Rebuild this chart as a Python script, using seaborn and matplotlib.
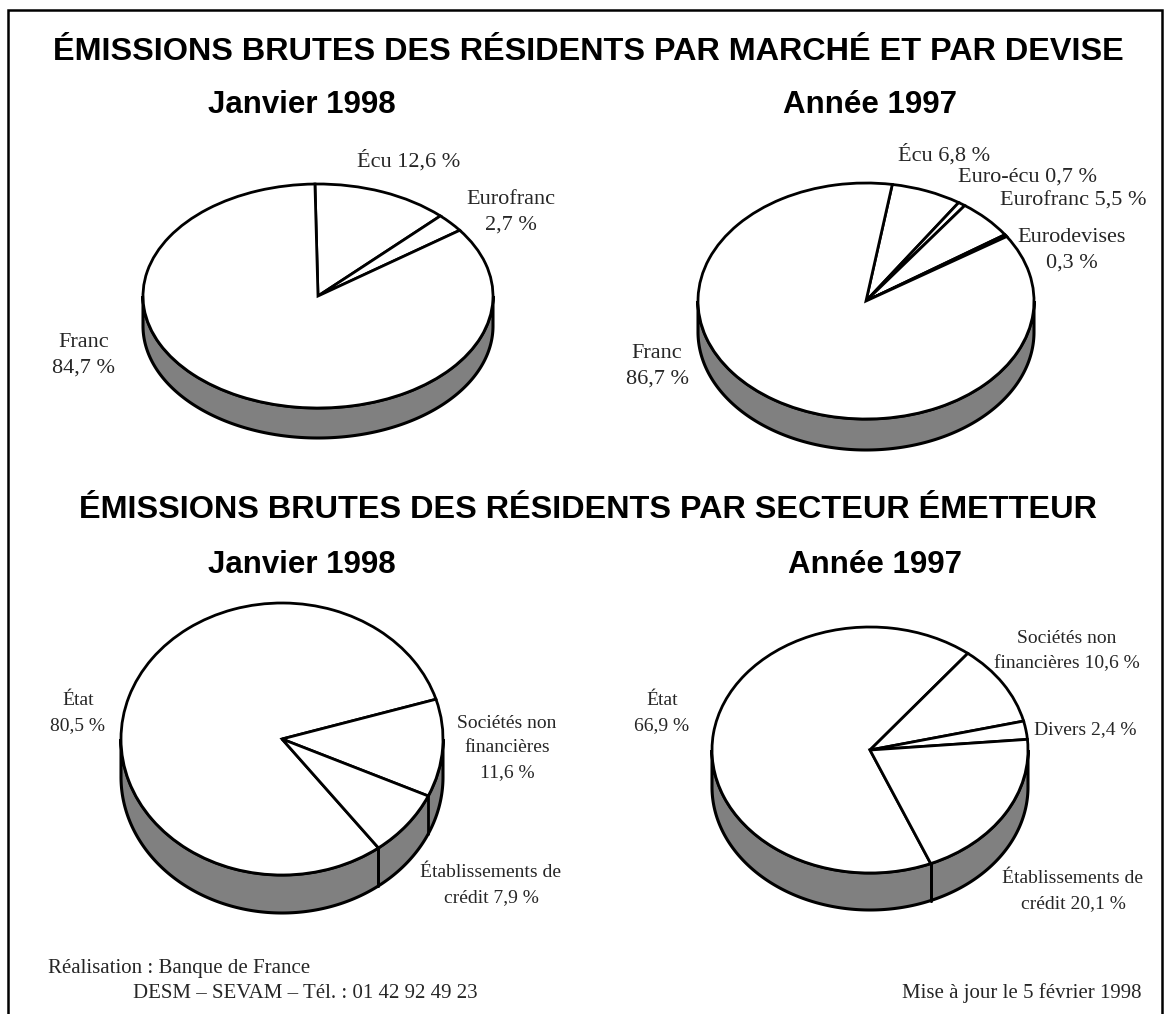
import numpy as np
import matplotlib
matplotlib.use("Agg")
import matplotlib.pyplot as plt
from matplotlib.patches import Polygon, Rectangle
import seaborn as sns

# --- data ---------------------------------------------------------------
dev_jan_values = [12.6, 2.7, 84.7]
dev_jan_labels = ["Écu 12,6 %", "Eurofranc\n2,7 %", "Franc\n84,7 %"]

dev_97_values = [6.8, 0.7, 5.5, 0.3, 86.7]
dev_97_labels = ["Écu 6,8 %", "Euro-écu 0,7 %", "Eurofranc 5,5 %",
                 "Eurodevises\n0,3 %", "Franc\n86,7 %"]

sec_jan_values = [80.5, 11.6, 7.9]
sec_jan_labels = ["État\n80,5 %", "Sociétés non\nfinancières\n11,6 %",
                  "Établissements de\ncrédit 7,9 %"]

sec_97_values = [66.9, 10.6, 2.4, 20.1]
sec_97_labels = ["État\n66,9 %", "Sociétés non\nfinancières 10,6 %",
                 "Divers 2,4 %", "Établissements de\ncrédit 20,1 %"]

title_top = "ÉMISSIONS BRUTES DES RÉSIDENTS PAR MARCHÉ ET PAR DEVISE"
title_bottom = "ÉMISSIONS BRUTES DES RÉSIDENTS PAR SECTEUR ÉMETTEUR"
period_labels = ["Janvier 1998", "Année 1997"]
footer_left = ["Réalisation : Banque de France",
               "DESM – SEVAM – Tél. : 01 42 92 49 23"]
footer_right = "Mise à jour le 5 février 1998"

# --- style --------------------------------------------------------------
sns.set_theme(style="white")
plt.rcParams['font.family'] = ['Liberation Serif', 'DejaVu Serif']

W, H = 1170, 1014
fig = plt.figure(figsize=(W / 100, H / 100), dpi=100)
fig.patch.set_facecolor('white')


def fx(x):
    return x / W


def fy(y):
    return 1 - y / H


def pie3d(values, cx, cy, rx, ry, depth, start):
    # pie drawn on a unit circle, squashed into an ellipse by the axes box
    d = depth / ry
    m = 0.04
    left, right = cx - rx * (1 + m), cx + rx * (1 + m)
    top, bottom = cy - ry * (1 + m), cy + ry * (1 + d + m)
    ax = fig.add_axes([fx(left), fy(bottom), (right - left) / W, (bottom - top) / H])
    ax.pie(values, startangle=start, counterclock=False,
           colors=['white'] * len(values),
           wedgeprops=dict(edgecolor='black', linewidth=2.0, joinstyle='miter'))
    # side of the cylinder
    t = np.linspace(np.pi, 2 * np.pi, 200)
    xs = np.concatenate([np.cos(t), np.cos(t[::-1])])
    ys = np.concatenate([np.sin(t), np.sin(t[::-1]) - d])
    ax.add_patch(Polygon(np.column_stack([xs, ys]), closed=True,
                         facecolor='#808080', edgecolor='black', lw=2.2, zorder=0))
    # slice borders visible on the front side
    bounds = start - 360 * np.cumsum([0] + list(values)) / sum(values)
    for b in np.deg2rad(bounds):
        if np.sin(b) < -0.01:
            ax.plot([np.cos(b), np.cos(b)], [np.sin(b), np.sin(b) - d],
                    color='black', lw=2.0, zorder=3)
    ax.set_aspect('auto')
    ax.set_xlim(-1 - m, 1 + m)
    ax.set_ylim(-1 - d - m, 1 + m)
    ax.axis('off')
    return ax


pie3d(dev_jan_values, 318, 296, 175, 112, 30, 91)
pie3d(dev_97_values, 866, 301, 168, 118, 31, 81)
pie3d(sec_jan_values, 282, 739, 161, 136, 38, -53.2)
pie3d(sec_97_values, 870, 750, 158, 123, 37, -67.4)

# --- titles -------------------------------------------------------------
bold = dict(family=['Liberation Sans', 'DejaVu Sans'], weight='bold',
            ha='center', va='center', color='black')
fig.text(fx(588), fy(52), title_top, fontsize=23.3, **bold)
fig.text(fx(588), fy(510), title_bottom, fontsize=23.3, **bold)
fig.text(fx(302), fy(105), period_labels[0], fontsize=22.5, **bold)
fig.text(fx(870), fy(105), period_labels[1], fontsize=22.5, **bold)
fig.text(fx(302), fy(565), period_labels[0], fontsize=22.5, **bold)
fig.text(fx(875), fy(565), period_labels[1], fontsize=22.5, **bold)

# --- slice labels -------------------------------------------------------
top_pos = {0: [(409, 161), (511, 212), (84, 355)],
           1: [(944, 155), (1028, 177), (1073, 201), (1072, 250), (657, 366)]}
for i, txt in enumerate(dev_jan_labels):
    x, y = top_pos[0][i]
    fig.text(fx(x), fy(y), txt, fontsize=16, ha='center', va='center', linespacing=1.45)
for i, txt in enumerate(dev_97_labels):
    x, y = top_pos[1][i]
    fig.text(fx(x), fy(y), txt, fontsize=16, ha='center', va='center', linespacing=1.45)

bot_pos = {0: [(78, 713), (507, 748), (491, 885)],
           1: [(662, 713), (1067, 651), (1085, 730), (1073, 891)]}
for i, txt in enumerate(sec_jan_labels):
    x, y = bot_pos[0][i]
    fig.text(fx(x), fy(y), txt, fontsize=14, ha='center', va='center', linespacing=1.58)
for i, txt in enumerate(sec_97_labels):
    x, y = bot_pos[1][i]
    fig.text(fx(x), fy(y), txt, fontsize=14, ha='center', va='center', linespacing=1.58)

# --- footer -------------------------------------------------------------
fig.text(fx(48), fy(968), footer_left[0], fontsize=15, ha='left', va='center')
fig.text(fx(133), fy(993), footer_left[1], fontsize=15, ha='left', va='center')
fig.text(fx(1142), fy(993), footer_right, fontsize=15, ha='right', va='center')

# frame around the page (bottom edge runs off the sheet)
fig.add_artist(Rectangle((fx(8), -0.05), (1162 - 8) / W, fy(10) + 0.05,
                         transform=fig.transFigure, fill=False,
                         edgecolor='black', lw=1.8))

fig.savefig('out.png', dpi=100, facecolor='white')
